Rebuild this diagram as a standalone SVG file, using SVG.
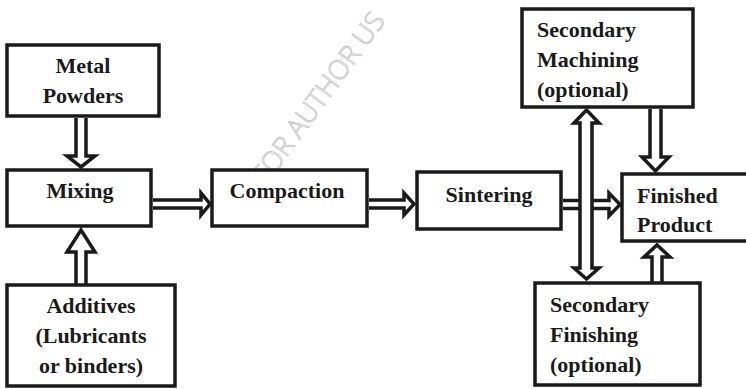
<svg xmlns="http://www.w3.org/2000/svg" width="746" height="389" viewBox="0 0 746 389">
<style>
.box{fill:#fff;stroke:#1a1a1a;stroke-width:3.5}
.arr{fill:#fff;stroke:#1a1a1a;stroke-width:3.5;stroke-linejoin:miter}
.t{font-weight:bold;font-size:22px;fill:#1a1a1a}
.c{text-anchor:middle}
.wm{font-weight:300;font-size:27px;fill:none;stroke:#c4c4c4;stroke-width:0.8}
</style>
<rect width="746" height="389" fill="#fff"/>
<text class="wm" font-family="'Open Sans', 'Liberation Sans', sans-serif" transform="translate(266,186) rotate(-54)">FOR AUTHOR US</text>
<g id="connectors">
<path class="arr" d="M76,118 V156 H67 L81,167 L95,156 H86 V118"/>
<path class="arr" d="M76,284 V252 H67 L81,230 L95,252 H86 V284"/>
<path class="arr" d="M153,200 H201 V193 L210,204 L201,215 V208 H153"/>
<path class="arr" d="M369,200 H404 V193 L414,204 L404,215 V208 H369"/>
<path class="arr" d="M563,200.5 H609 V193 L620,204.5 L609,216 V208.5 H563"/>
<path class="arr" d="M580,123 H574 L586.5,110 L599,123 H592 V268 H599 L586.5,279 L574,268 H580 Z"/>
<path class="arr" d="M650,109 V157 H642 L655.5,171 L669,157 H661 V109"/>
<path class="arr" d="M652,282 V257 H644 L657,245 L670,257 H662 V282"/>
</g>
<g id="nodes" font-family="'Liberation Serif', serif">
<g id="metal-powders">
<rect class="box" x="7" y="45" width="152" height="71"/>
<text class="t c" x="83" y="73">Metal</text>
<text class="t c" x="83" y="103">Powders</text>
</g>
<g id="mixing">
<rect class="box" x="7" y="170" width="144" height="56"/>
<text class="t c" x="80" y="198">Mixing</text>
</g>
<g id="additives">
<rect class="box" x="7" y="285" width="168" height="101"/>
<text class="t c" x="91" y="313">Additives</text>
<text class="t c" x="91" y="343">(Lubricants</text>
<text class="t c" x="91" y="373">or binders)</text>
</g>
<g id="compaction">
<rect class="box" x="212" y="170" width="155" height="56"/>
<text class="t c" x="287" y="198">Compaction</text>
</g>
<g id="sintering">
<rect class="box" x="417" y="172" width="144" height="57"/>
<text class="t c" x="489" y="202">Sintering</text>
</g>
<g id="secondary-machining">
<rect class="box" x="522" y="9" width="171" height="98"/>
<text class="t" x="537" y="37">Secondary</text>
<text class="t" x="537" y="67">Machining</text>
<text class="t" x="537" y="97">(optional)</text>
</g>
<g id="finished-product">
<rect class="box" x="622" y="174" width="130" height="67"/>
<text class="t" x="637" y="203">Finished</text>
<text class="t" x="637" y="232">Product</text>
</g>
<g id="secondary-finishing">
<rect class="box" x="535" y="283" width="165" height="102"/>
<text class="t" x="550" y="312">Secondary</text>
<text class="t" x="550" y="342">Finishing</text>
<text class="t" x="550" y="372">(optional)</text>
</g>
</g>
</svg>
